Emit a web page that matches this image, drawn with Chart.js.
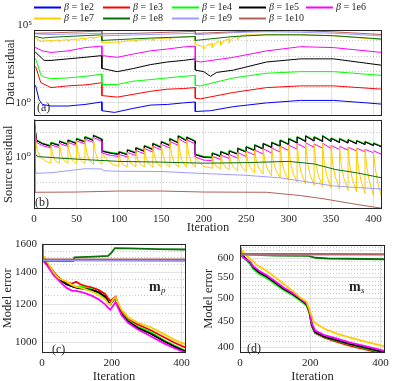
<!DOCTYPE html>
<html>
<head>
<meta charset="utf-8">
<script src="https://cdn.jsdelivr.net/npm/chart.js@4"></script>
<style>
  html, body { margin: 0; padding: 0; background: #fff; width: 399px; height: 381px; overflow: hidden; }
  canvas { position: absolute; }
</style>
</head>
<body>
<canvas id="cA" width="399" height="125" style="left:0;top:0"></canvas>
<canvas id="cB" width="399" height="125" style="left:0;top:110px"></canvas>
<canvas id="cC" width="200" height="152" style="left:0;top:232px"></canvas>
<canvas id="cD" width="199" height="152" style="left:200px;top:232px"></canvas>
<script>
// legend labels (one per regularisation weight)
const betaLabels = ['β = 1e2', 'β = 1e3', 'β = 1e4', 'β = 1e5', 'β = 1e6', 'β = 1e7', 'β = 1e8', 'β = 1e9', 'β = 1e10'];

// (a) data residual, log10 value, [iteration, log10]
const dataRes1e2 = [[0,1.2],[2,1.09],[6,0.2],[10,-0.1],[20,-0.2],[40,-0.2],[60,-0.1],[80,0.06],[80,-0.5],[95,-0.61],[117,-0.35],[137,-0.14],[157,-0.1],[176,0.0],[190,0.06],[190,-0.55],[208,-0.5],[235,-0.24],[274,0.0],[314,0.16],[353,0.16],[392,0.0],[410,-0.08]];
const dataRes1e3 = [[0,2.4],[2,2.31],[8,1.3],[20,0.98],[40,1.09],[60,1.15],[80,1.29],[80,0.47],[98,0.37],[117,0.55],[137,0.74],[157,0.88],[176,0.92],[190,0.98],[190,0.3],[196,0.26],[235,0.67],[274,0.98],[314,1.09],[353,1.09],[410,0.88]];
const dataRes1e4 = [[0,2.9],[2,2.82],[8,1.8],[12,1.65],[20,1.55],[40,1.6],[60,1.7],[80,1.84],[80,1.18],[98,1.18],[117,1.39],[137,1.49],[157,1.6],[176,1.7],[190,1.76],[190,1.12],[196,1.09],[235,1.6],[274,1.9],[314,2.0],[353,2.0],[410,1.76]];
const dataRes1e5 = [[0,3.3],[2,3.23],[12,2.72],[20,2.72],[40,2.82],[60,2.92],[80,3.03],[80,2.21],[98,2.0],[117,2.2],[137,2.45],[157,2.62],[176,2.72],[190,2.82],[190,2.1],[200,2.0],[208,1.7],[215,1.95],[235,2.1],[274,2.62],[314,2.82],[353,2.82],[410,2.41]];
const dataRes1e6 = [[0,3.6],[2,3.54],[10,3.33],[20,3.23],[40,3.33],[60,3.54],[80,3.64],[80,3.03],[98,2.92],[117,3.13],[137,3.33],[157,3.45],[176,3.58],[190,3.64],[190,2.7],[196,2.62],[235,2.92],[274,3.33],[314,3.6],[353,3.54],[410,3.23]];
const dataRes1e7 = [[0,4.2],[2,4.15],[8,3.94],[20,4.0],[20,3.9],[23,4.0],[30,4.02],[30,3.92],[33,4.02],[40,4.05],[40,3.95],[43,4.06],[50,4.08],[50,3.98],[53,4.1],[60,4.15],[60,4.05],[63,4.16],[70,4.2],[70,4.1],[73,4.2],[80,4.25],[80,3.85],[98,3.9],
  [100,3.92],[100,3.82],[103,3.93],[120,4.0],[120,3.9],[123,4.02],[140,4.1],[140,4.0],[143,4.1],[160,4.16],[160,4.06],[163,4.17],[176,4.2],[190,4.25],[190,3.74],[200,3.6],
  [200,3.45],[204,3.7],[210,3.8],[210,3.55],[214,3.85],[220,3.95],[220,3.7],[224,4.0],[230,4.1],[230,3.85],[234,4.15],[240,4.25],[240,4.05],[244,4.3],[250,4.36],[314,4.36],[353,4.3],[410,4.05]];
const dataRes1e8 = [[0,4.3],[2,4.25],[10,4.15],[20,4.2],[50,4.28],[80,4.36],[80,4.0],[98,4.05],[137,4.15],[190,4.25],[190,4.0],[235,4.25],[274,4.36],[314,4.36],[353,4.3],[410,4.09]];
const dataRes1e9 = [[0,4.45],[2,4.42],[20,4.38],[80,4.46],[80,4.29],[117,4.35],[190,4.46],[190,4.36],[235,4.5],[274,4.56],[314,4.52],[353,4.46],[410,4.29]];
const dataRes1e10 = [[0,4.5],[2,4.46],[20,4.48],[80,4.6],[80,4.42],[117,4.45],[190,4.58],[190,4.45],[235,4.55],[274,4.62],[314,4.62],[353,4.55],[410,4.38]];

// (b) source residual, log10 value, [iteration, log10]
const srcRes1e2 = [[0,1.5],[3,0.67],[10,0.54],[20,0.44],[20,0.58],[30,0.47],[30,0.64],[40,0.51],[40,0.68],[50,0.55],[50,0.74],[60,0.61],[60,0.81],[70,0.67],[70,0.87],[80,0.71],[80,0.25],[90,0.17],[100,0.12],[100,0.22],[110,0.11],[110,0.3],[120,0.17],[120,0.38],[130,0.24],[130,0.46],[140,0.31],[140,0.55],[150,0.39],[150,0.62],[160,0.47],[160,0.74],[170,0.57],[170,0.85],[180,0.65],[180,0.8],[190,0.63],[190,0.11],[200,0.01],[210,-0.01],[210,0.17],[220,0.04],[220,0.23],[230,0.09],[230,0.26],[240,0.13],[240,0.36],[250,0.21],[250,0.42],[260,0.27],[260,0.49],[270,0.33],[270,0.55],[280,0.39],[280,0.59],[290,0.44],[290,0.68],[300,0.51],[300,0.74],[310,0.57],[310,0.81],[320,0.63],[320,0.85],[330,0.65],[330,0.81],[340,0.63],[340,0.85],[350,0.63],[350,0.76],[360,0.59],[360,0.74],[370,0.57],[370,0.7],[380,0.54],[380,0.66],[390,0.51],[390,0.62],[400,0.47],[400,0.56],[410,0.41]];
const srcRes1e3 = [[0,1.5],[3,0.69],[10,0.56],[20,0.46],[20,0.6],[30,0.49],[30,0.65],[40,0.53],[40,0.7],[50,0.57],[50,0.75],[60,0.63],[60,0.82],[70,0.69],[70,0.88],[80,0.73],[80,0.27],[90,0.19],[100,0.14],[100,0.24],[110,0.13],[110,0.31],[120,0.19],[120,0.4],[130,0.26],[130,0.47],[140,0.33],[140,0.56],[150,0.41],[150,0.64],[160,0.49],[160,0.75],[170,0.59],[170,0.86],[180,0.67],[180,0.81],[190,0.65],[190,0.13],[200,0.03],[210,0.01],[210,0.18],[220,0.06],[220,0.24],[230,0.11],[230,0.27],[240,0.15],[240,0.37],[250,0.23],[250,0.43],[260,0.29],[260,0.5],[270,0.35],[270,0.56],[280,0.41],[280,0.6],[290,0.46],[290,0.69],[300,0.53],[300,0.75],[310,0.59],[310,0.82],[320,0.65],[320,0.86],[330,0.67],[330,0.82],[340,0.65],[340,0.86],[350,0.65],[350,0.77],[360,0.61],[360,0.75],[370,0.59],[370,0.71],[380,0.56],[380,0.67],[390,0.53],[390,0.63],[400,0.49],[400,0.57],[410,0.43]];
const srcRes1e4 = [[0,1.5],[3,0.71],[10,0.58],[20,0.48],[20,0.61],[30,0.51],[30,0.67],[40,0.55],[40,0.71],[50,0.59],[50,0.77],[60,0.65],[60,0.84],[70,0.71],[70,0.9],[80,0.75],[80,0.29],[90,0.21],[100,0.16],[100,0.25],[110,0.15],[110,0.33],[120,0.21],[120,0.41],[130,0.28],[130,0.49],[140,0.35],[140,0.58],[150,0.43],[150,0.65],[160,0.51],[160,0.77],[170,0.61],[170,0.88],[180,0.69],[180,0.83],[190,0.67],[190,0.15],[200,0.05],[210,0.03],[210,0.2],[220,0.08],[220,0.26],[230,0.13],[230,0.29],[240,0.17],[240,0.39],[250,0.25],[250,0.45],[260,0.31],[260,0.52],[270,0.37],[270,0.58],[280,0.43],[280,0.62],[290,0.48],[290,0.71],[300,0.55],[300,0.77],[310,0.61],[310,0.84],[320,0.67],[320,0.88],[330,0.69],[330,0.84],[340,0.67],[340,0.88],[350,0.67],[350,0.79],[360,0.63],[360,0.77],[370,0.61],[370,0.73],[380,0.58],[380,0.69],[390,0.55],[390,0.65],[400,0.51],[400,0.59],[410,0.45]];
const srcRes1e5 = [[0,1.5],[3,0.68],[10,0.55],[20,0.45],[20,0.58],[30,0.48],[30,0.64],[40,0.52],[40,0.68],[50,0.56],[50,0.74],[60,0.62],[60,0.81],[70,0.68],[70,0.87],[80,0.72],[80,0.26],[90,0.18],[100,0.13],[100,0.22],[110,0.12],[110,0.3],[120,0.18],[120,0.38],[130,0.25],[130,0.46],[140,0.32],[140,0.55],[150,0.4],[150,0.62],[160,0.48],[160,0.74],[170,0.58],[170,0.85],[180,0.66],[180,0.8],[190,0.64],[190,0.12],[200,0.02],[210,0.0],[210,0.17],[220,0.05],[220,0.23],[230,0.1],[230,0.26],[240,0.14],[240,0.36],[250,0.22],[250,0.42],[260,0.28],[260,0.49],[270,0.34],[270,0.55],[280,0.4],[280,0.59],[290,0.45],[290,0.68],[300,0.52],[300,0.74],[310,0.58],[310,0.81],[320,0.64],[320,0.85],[330,0.66],[330,0.81],[340,0.64],[340,0.85],[350,0.64],[350,0.76],[360,0.6],[360,0.74],[370,0.58],[370,0.7],[380,0.55],[380,0.66],[390,0.52],[390,0.62],[400,0.48],[400,0.56],[410,0.42]];
const srcRes1e6 = [[0,1.5],[3,0.6],[10,0.47],[20,0.38],[20,0.5],[30,0.4],[30,0.56],[40,0.44],[40,0.6],[50,0.48],[50,0.66],[60,0.54],[60,0.73],[70,0.6],[70,0.79],[80,0.64],[80,0.18],[90,0.09],[100,0.04],[100,0.12],[110,0.03],[110,0.2],[120,0.08],[120,0.28],[130,0.15],[130,0.36],[140,0.22],[140,0.45],[150,0.3],[150,0.52],[160,0.38],[160,0.64],[170,0.48],[170,0.75],[180,0.56],[180,0.7],[190,0.54],[190,0.02],[200,-0.1],[210,-0.12],[210,0.05],[220,-0.08],[220,0.1],[230,-0.04],[230,0.12],[240,-0.02],[240,0.2],[250,0.04],[250,0.25],[260,0.1],[260,0.3],[270,0.14],[270,0.35],[280,0.18],[280,0.38],[290,0.22],[290,0.45],[300,0.28],[300,0.5],[310,0.33],[310,0.56],[320,0.38],[320,0.59],[330,0.4],[330,0.54],[340,0.37],[340,0.57],[350,0.36],[350,0.48],[360,0.32],[360,0.45],[370,0.29],[370,0.41],[380,0.26],[380,0.37],[390,0.23],[390,0.33],[400,0.19],[400,0.27],[410,0.12]];
const srcRes1e7 = [[0,1.5],[3,0.36],[8,0.0],[14,-0.15],[20,-0.22],
  [20,0.5],[22,0.12],[25,-0.12],[30,-0.22],[30,0.56],[32,0.15],[35,-0.1],[40,-0.22],[40,0.6],[42,0.18],[45,-0.1],[50,-0.24],
  [50,0.66],[52,0.2],[55,-0.1],[60,-0.25],[60,0.73],[62,0.22],[65,-0.1],[70,-0.26],[70,0.79],[72,0.25],[75,-0.1],[80,-0.27],
  [80,0.18],[85,-0.05],[92,-0.25],[100,-0.35],
  [100,0.12],[102,-0.12],[105,-0.28],[110,-0.36],[110,0.2],[112,-0.08],[115,-0.26],[120,-0.36],[120,0.28],[122,-0.05],[125,-0.25],[130,-0.37],
  [130,0.36],[132,0.0],[135,-0.24],[140,-0.38],[140,0.45],[142,0.05],[145,-0.22],[150,-0.38],[150,0.52],[152,0.08],[155,-0.22],[160,-0.38],
  [160,0.64],[162,0.15],[165,-0.2],[170,-0.38],[170,0.75],[172,0.2],[175,-0.18],[180,-0.38],[180,0.7],[182,0.18],[185,-0.18],[190,-0.38],
  [190,0.02],[195,-0.2],[200,-0.35],[210,-0.42],
  [210,0.05],[212,-0.2],[215,-0.35],[220,-0.45],[220,0.1],[222,-0.18],[225,-0.36],[230,-0.48],[230,0.12],[232,-0.18],[235,-0.38],[240,-0.52],
  [240,0.2],[242,-0.15],[245,-0.38],[250,-0.56],[250,0.25],[252,-0.15],[255,-0.4],[260,-0.6],[260,0.3],[262,-0.14],[265,-0.42],[270,-0.65],
  [270,0.35],[272,-0.14],[275,-0.45],[280,-0.72],[280,0.38],[282,-0.15],[285,-0.5],[290,-0.8],[290,0.45],[292,-0.15],[295,-0.55],[300,-0.9],
  [300,0.5],[302,-0.15],[305,-0.6],[310,-0.98],[310,0.56],[312,-0.15],[315,-0.62],[320,-1.04],[320,0.59],[322,-0.15],[325,-0.65],[330,-1.1],
  [330,0.54],[332,-0.2],[335,-0.7],[340,-1.15],[340,0.57],[342,-0.2],[345,-0.72],[350,-1.2],[350,0.48],[352,-0.25],[355,-0.76],[360,-1.25],
  [360,0.45],[362,-0.28],[365,-0.8],[370,-1.3],[370,0.41],[372,-0.3],[375,-0.84],[380,-1.35],[380,0.37],[382,-0.33],[385,-0.88],[390,-1.42],
  [390,0.33],[392,-0.36],[395,-0.92],[400,-1.5],[400,0.27],[402,-0.42],[405,-1.0],[410,-1.63]];
const srcRes1e8 = [[0,1.5],[2,0.1],[5,0.04],[30,-0.02],[60,-0.08],[100,-0.15],[150,-0.18],[200,-0.22],[250,-0.2],[300,-0.15],[330,-0.25],[355,-0.47],[380,-0.6],[410,-0.8]];
const srcRes1e9 = [[0,1.5],[2,-0.62],[20,-0.6],[60,-0.44],[80,-0.45],[82,-0.52],[100,-0.54],[150,-0.55],[200,-0.63],[250,-0.7],[290,-0.8],[320,-0.95],[353,-1.12],[380,-1.18],[410,-1.24]];
const srcRes1e10 = [[0,1.5],[1,-1.37],[50,-1.36],[100,-1.32],[150,-1.32],[200,-1.36],[274,-1.37],[314,-1.5],[340,-1.62],[373,-1.81],[400,-1.95],[410,-2.0]];

// (c) model error m_p, [iteration, error]
const errMp1e2 = [[0,1495],[5,1481],[15,1456],[25,1426],[35,1394],[47,1362],[60,1338],[70,1323],[85,1311],[98,1302],[110,1300],[125,1294],[144,1286],[163,1270],[181,1242],[190,1213],[196,1202],[205,1228],[211,1237],[216,1206],[228,1148],[247,1107],[274,1075],[312,1045],[350,1008],[380,980],[412,957]];
const errMp1e3 = [[0,1495],[5,1485],[15,1458],[25,1430],[35,1398],[47,1368],[60,1345],[70,1330],[85,1325],[98,1338],[110,1322],[125,1310],[144,1300],[163,1285],[181,1262],[190,1235],[196,1220],[205,1235],[211,1245],[216,1215],[228,1160],[247,1115],[274,1090],[312,1060],[350,1025],[380,998],[412,975]];
const errMp1e4 = [[0,1495],[5,1482],[15,1455],[25,1425],[35,1392],[47,1360],[60,1338],[70,1322],[85,1312],[98,1305],[110,1310],[125,1300],[144,1290],[163,1265],[181,1235],[190,1210],[196,1205],[205,1230],[211,1240],[216,1208],[228,1150],[247,1110],[274,1078],[312,1050],[350,1010],[380,985],[412,960]];
const errMp1e5 = [[0,1495],[5,1480],[15,1455],[25,1425],[35,1395],[47,1362],[60,1338],[70,1322],[85,1310],[98,1300],[110,1296],[125,1292],[144,1285],[163,1272],[181,1245],[190,1215],[196,1200],[205,1225],[211,1235],[216,1205],[228,1145],[247,1105],[274,1072],[312,1042],[350,1005],[380,980],[412,956]];
const errMp1e6 = [[0,1495],[5,1475],[15,1445],[25,1410],[35,1375],[47,1348],[60,1320],[70,1300],[85,1282],[98,1280],[110,1275],[125,1265],[144,1250],[163,1228],[181,1200],[190,1180],[196,1170],[205,1195],[211,1215],[216,1190],[228,1140],[247,1098],[274,1065],[312,1030],[350,995],[380,972],[412,952]];
const errMp1e7 = [[0,1608],[3,1500],[8,1508],[15,1470],[25,1430],[35,1395],[47,1362],[60,1348],[70,1340],[85,1318],[98,1305],[110,1300],[125,1290],[144,1275],[163,1255],[181,1230],[190,1205],[196,1200],[205,1230],[211,1240],[216,1215],[228,1170],[247,1128],[274,1100],[312,1075],[350,1040],[380,1012],[412,990]];
const errMp1e8 = [[0,1600],[2,1480],[90,1478],[93,1504],[150,1510],[190,1515],[200,1540],[209,1573],[250,1570],[330,1565],[412,1562]];
const errMp1e9 = [[0,1600],[2,1482],[150,1481],[412,1478]];
const errMp1e10 = [[0,1600],[2,1492],[412,1490]];

// (d) model error m_s, [iteration, error]
const errMs1e2 = [[0,612],[5,609],[15,599],[29,587],[38,574],[55,561],[76,551],[100,536],[124,521],[150,509],[171,497],[190,485],[198,469],[205,441],[214,428],[240,419],[267,414],[314,405],[360,398],[412,390]];
const errMs1e3 = [[0,612],[5,608],[15,599],[29,587],[38,574],[55,561],[76,551],[100,536],[124,521],[150,509],[171,497],[190,485],[198,468],[205,440],[214,427],[240,418],[267,412],[314,403],[360,396],[412,388]];
const errMs1e4 = [[0,612],[5,606],[15,596],[29,584],[38,571],[55,558],[76,548],[100,533],[124,519],[150,507],[171,495],[190,483],[198,467],[205,440],[214,428],[240,419],[267,414],[314,405],[360,398],[412,390]];
const errMs1e5 = [[0,612],[5,610],[15,600],[29,588],[38,575],[55,562],[76,552],[100,537],[124,522],[150,510],[171,498],[190,486],[198,470],[205,442],[214,429],[240,420],[267,415],[314,406],[360,399],[412,391]];
const errMs1e6 = [[0,612],[5,605],[15,598],[29,590],[38,578],[55,566],[76,555],[100,540],[124,525],[150,512],[171,500],[190,488],[198,472],[205,445],[214,432],[240,423],[267,418],[314,409],[360,402],[412,394]];
const errMs1e7 = [[0,632],[5,620],[15,610],[29,598],[50,580],[76,566],[100,550],[124,534],[150,517],[171,502],[190,492],[200,470],[210,449],[230,440],[248,433],[280,425],[314,418],[360,410],[412,402]];
const errMs1e8 = [[0,625],[2,610],[100,607],[195,606],[215,601],[250,599],[412,597]];
const errMs1e9 = [[0,630],[2,610],[412,609]];
const errMs1e10 = [[0,630],[2,612],[412,611]];

// axis ticks
const iterTicksAB = [0, 50, 100, 150, 200, 250, 300, 350, 400];
const iterTicksCD = [0, 200, 400];
const decadeTicksA = [0, 1, 2, 3, 4];
const decadeTicksB = [-2, -1, 0, 1];
const errTicksMp = [1000, 1050, 1100, 1150, 1200, 1250, 1300, 1350, 1400, 1450, 1500, 1550, 1600];
const errLabelsMp = [1000, 1200, 1400, 1600];
const errTicksMs = [400, 410, 420, 430, 440, 450, 460, 470, 480, 490, 500, 510, 520, 530, 540, 550, 560, 570, 580, 590, 600, 610, 620, 630];
const errLabelsMs = [400, 450, 500, 550, 600];

// styles
const betaColors = ['#0000ff', '#ff0000', '#00ff00', '#000000', '#ff00ff', '#ffcc00', '#0a6e0a', '#9c9cff', '#b0605a'];
const ink = '#262626';
const gridMajor = 'rgba(38,38,38,0.13)';
const gridMinor = 'rgba(38,38,38,0.25)';
const serif = '"Liberation Serif", "DejaVu Serif", serif';
const supDigits = { '0': '⁰', '5': '⁵' };

const toXY = pts => pts.map(([x, y]) => ({ x, y }));

function makeSets(series, width) {
  return series.map((pts, i) => ({
    label: betaLabels[i],
    data: toXY(pts),
    borderColor: betaColors[i],
    backgroundColor: betaColors[i],
    borderWidth: width,
    pointRadius: 0,
    tension: 0,
    fill: false,
    order: series.length - i   // later betas on top, as in the original
  }));
}

// box, panel letters, extra texts
const panelDecor = {
  id: 'panelDecor',
  afterDatasetsDraw(chart, args, opts) {
    const { ctx, chartArea: a } = chart;
    ctx.save();
    ctx.strokeStyle = ink;
    ctx.lineWidth = 1;
    ctx.strokeRect(Math.round(a.left) + 0.5, Math.round(a.top) + 0.5,
      Math.round(a.right - a.left) - 1, Math.round(a.bottom - a.top) - 1);
    ctx.fillStyle = ink;
    ctx.textBaseline = 'middle';
    (opts.texts || []).forEach(t => {
      ctx.font = t.font;
      ctx.textAlign = t.align || 'left';
      ctx.fillText(t.text, t.x, t.y);
    });
    if (opts.extraDecade !== undefined) {
      const s = chart.scales.y;
      ctx.font = '11px ' + serif;
      ctx.textAlign = 'right';
      ctx.fillText('10' + supDigits[String(opts.extraDecade)], s.right - 2, s.getPixelForValue(opts.extraDecade));
    }
    ctx.restore();
  }
};

// two-row legend above panel (a)
const betaLegend = {
  id: 'betaLegend',
  afterDraw(chart) {
    const ctx = chart.ctx;
    const colX = [34, 103, 172, 239, 306];
    ctx.save();
    ctx.textBaseline = 'middle';
    ctx.textAlign = 'left';
    chart.data.datasets.forEach((ds, i) => {
      const x = colX[i % 5];
      const y = 7.5 + Math.floor(i / 5) * 11;
      ctx.strokeStyle = ds.borderColor;
      ctx.lineWidth = 2;
      ctx.beginPath();
      ctx.moveTo(x, y);
      ctx.lineTo(x + 27, y);
      ctx.stroke();
      ctx.fillStyle = ink;
      ctx.font = 'italic 10px ' + serif;
      ctx.fillText('β', x + 30, y);
      const w = ctx.measureText('β').width;
      ctx.font = '10px ' + serif;
      ctx.fillText(ds.label.replace('β', ''), x + 30 + w, y);
    });
    ctx.restore();
  }
};

function panel(id, series, o) {
  const isMajorX = v => o.xMajor.includes(v);
  const isMajorY = v => o.yMajor.includes(v);
  return new Chart(document.getElementById(id), {
    type: 'line',
    data: { datasets: makeSets(series, o.lw) },
    plugins: o.legend ? [panelDecor, betaLegend] : [panelDecor],
    options: {
      responsive: false,
      animation: false,
      events: [],
      layout: { padding: o.pad },
      plugins: {
        legend: { display: false },
        tooltip: { enabled: false },
        panelDecor: { texts: o.texts, extraDecade: o.extraDecade }
      },
      scales: {
        x: {
          type: 'linear',
          min: 0,
          max: o.xMax,
          afterBuildTicks: s => { s.ticks = o.xTicks.map(v => ({ value: v })); },
          afterFit: s => { s.height = o.xH; },
          ticks: {
            display: o.xLabels.length > 0,
            autoSkip: false,
            maxRotation: 0,
            padding: 4,
            color: ink,
            font: { family: serif, size: 11 },
            callback: v => o.xLabels.includes(v) ? String(v) : ''
          },
          grid: {
            drawTicks: false,
            color: ctx => ctx.tick && !isMajorX(ctx.tick.value) ? gridMinor : gridMajor
          },
          border: { display: false, dash: ctx => ctx.tick && !isMajorX(ctx.tick.value) ? [1, 2] : [] },
          title: { display: o.xTitle, text: 'Iteration', color: ink, font: { family: serif, size: 12.5 }, padding: 0 }
        },
        y: {
          type: o.yType,
          min: o.yMin,
          max: o.yMax,
          afterBuildTicks: s => { s.ticks = o.yTicks.map(v => ({ value: v })); },
          afterFit: s => { s.width = o.yW; },
          ticks: {
            autoSkip: false,
            padding: o.yPad,
            color: ink,
            font: { family: serif, size: 11 },
            callback: v => o.yLabels.includes(v) ? o.yFmt(v) : ''
          },
          grid: {
            drawTicks: false,
            color: ctx => ctx.tick && !isMajorY(ctx.tick.value) ? gridMinor : gridMajor
          },
          border: { display: false, dash: ctx => ctx.tick && !isMajorY(ctx.tick.value) ? [1, 2] : [] },
          title: { display: true, text: o.yTitle, color: ink, font: { family: serif, size: 12.5 }, padding: { top: o.yTitlePad, bottom: 0 } }
        }
      }
    }
  });
}

const decadeFmt = v => '10' + (supDigits[String(v)] || '');
const plainFmt = v => String(v);

panel('cA', [dataRes1e2, dataRes1e3, dataRes1e4, dataRes1e5, dataRes1e6, dataRes1e7, dataRes1e8, dataRes1e9, dataRes1e10], {
  lw: 1, legend: true, pad: { top: 29.5, right: 17, left: 0, bottom: 0 },
  xMax: 410, xTicks: iterTicksAB, xMajor: iterTicksAB, xLabels: [], xH: 7, xTitle: false,
  yType: 'linear', yMin: -0.8, yMax: 4.7, yTicks: decadeTicksA, yMajor: [0], yLabels: [0], yFmt: decadeFmt,
  yW: 34, yPad: 3, yTitle: 'Data residual', yTitlePad: 3, extraDecade: 5,
  texts: [{ text: '(a)', x: 37, y: 108, font: '12px ' + serif }]
});

panel('cB', [srcRes1e2, srcRes1e3, srcRes1e4, srcRes1e5, srcRes1e6, srcRes1e7, srcRes1e8, srcRes1e9, srcRes1e10], {
  lw: 1, legend: false, pad: { top: 8, right: 17, left: 0, bottom: 0 },
  xMax: 410, xTicks: iterTicksAB, xMajor: iterTicksAB, xLabels: iterTicksAB, xH: 26, xTitle: true,
  yType: 'linear', yMin: -2.03, yMax: 1.5, yTicks: decadeTicksB, yMajor: [0], yLabels: [0], yFmt: decadeFmt,
  yW: 34, yPad: 3, yTitle: 'Source residual', yTitlePad: 1,
  texts: [{ text: '(b)', x: 35, y: 93, font: '12px ' + serif }]
});

panel('cC', [errMp1e2, errMp1e3, errMp1e4, errMp1e5, errMp1e6, errMp1e7, errMp1e8, errMp1e9, errMp1e10], {
  lw: 1.8, legend: false, pad: { top: 5, right: 14, left: 0, bottom: 0 },
  xMax: 413, xTicks: iterTicksCD, xMajor: iterTicksCD, xLabels: iterTicksCD, xH: 31, xTitle: true,
  yType: 'logarithmic', yMin: 950, yMax: 1607, yTicks: errTicksMp, yMajor: errLabelsMp, yLabels: errLabelsMp, yFmt: plainFmt,
  yW: 42, yPad: 5, yTitle: 'Model error', yTitlePad: 0,
  texts: [
    { text: '(c)', x: 52, y: 118, font: '12px ' + serif },
    { text: 'm', x: 149, y: 55, font: 'bold 14px ' + serif },
    { text: 'p', x: 161, y: 59, font: 'italic 9px ' + serif }
  ]
});

panel('cD', [errMs1e2, errMs1e3, errMs1e4, errMs1e5, errMs1e6, errMs1e7, errMs1e8, errMs1e9, errMs1e10], {
  lw: 1.8, legend: false, pad: { top: 5, right: 14, left: 0, bottom: 0 },
  xMax: 413, xTicks: iterTicksCD, xMajor: iterTicksCD, xLabels: iterTicksCD, xH: 31, xTitle: true,
  yType: 'logarithmic', yMin: 390, yMax: 638, yTicks: errTicksMs, yMajor: errLabelsMs, yLabels: errLabelsMs, yFmt: plainFmt,
  yW: 40, yPad: 6, yTitle: 'Model error', yTitlePad: 1,
  texts: [
    { text: '(d)', x: 47, y: 117, font: '12px ' + serif },
    { text: 'm', x: 149, y: 55, font: 'bold 14px ' + serif },
    { text: 's', x: 161, y: 59, font: 'italic 9px ' + serif }
  ]
});
</script>
</body>
</html>
